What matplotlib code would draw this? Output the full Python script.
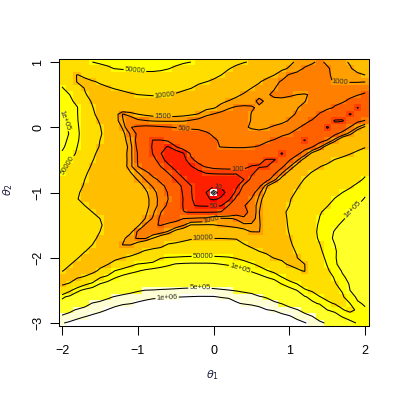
import numpy as np
import matplotlib
matplotlib.use("Agg")
import matplotlib.pyplot as plt
from matplotlib.colors import ListedColormap, BoundaryNorm

plt.rcParams['font.family'] = ['Liberation Sans', 'DejaVu Sans']
plt.rcParams['mathtext.fontset'] = 'dejavusans'

theta1 = [round(-2 + 0.1 * i, 1) for i in range(41)]
theta2 = [round(1 - 0.1 * j, 1) for j in range(41)]

# log10 of the surface, top row first (theta2 = 1 ... -3)
log10_z = [
[4.4,4.45,4.55,4.63,4.7,4.74,4.76,4.78,4.79,4.8,4.8,4.8,4.8,4.8,4.78,4.76,4.73,4.7,4.6,4.5,4.4,4.3,4.2,4.1,4.03,3.95,3.8,3.65,3.5,3.35,3.22,3.15,3.08,3.02,2.97,3.03,3.08,3.14,3.2,3.3,3.4],
[4.3,4.3,4.35,4.45,4.55,4.6,4.66,4.71,4.73,4.74,4.75,4.75,4.75,4.74,4.71,4.66,4.6,4.5,4.4,4.3,4.2,4.1,4.02,3.9,3.75,3.6,3.45,3.35,3.28,3.22,3.16,3.08,2.98,2.95,2.95,2.98,3.05,3.1,3.16,3.25,3.3],
[4.3,4.2,3.98,4.08,4.2,4.3,4.38,4.45,4.52,4.58,4.62,4.64,4.64,4.62,4.58,4.5,4.42,4.34,4.25,4.15,4.08,4.0,3.85,3.7,3.55,3.42,3.32,3.25,3.18,3.08,2.98,2.93,2.9,2.9,2.92,2.98,3.03,3.07,3.1,3.14,3.18],
[4.62,4.4,3.97,3.9,3.97,4.04,4.1,4.18,4.25,4.32,4.37,4.4,4.42,4.41,4.37,4.3,4.22,4.14,4.07,4.01,3.95,3.85,3.72,3.55,3.42,3.3,3.2,3.12,3.05,2.98,2.9,2.85,2.85,2.85,2.87,2.98,3.01,3.01,3.02,3.02,3.01],
[4.72,4.58,4.2,3.98,3.88,3.92,3.97,4.02,4.07,4.12,4.16,4.2,4.22,4.21,4.17,4.12,4.07,4.01,3.9,3.8,3.72,3.62,3.5,3.38,3.25,3.18,3.12,3.06,3.01,2.93,2.88,2.84,2.84,2.84,2.85,2.88,2.88,2.87,2.86,2.85,2.84],
[4.8,4.7,4.35,4.03,3.9,3.85,3.85,3.88,3.91,3.96,4.0,4.02,4.04,4.03,4.01,3.97,3.9,3.8,3.7,3.6,3.5,3.4,3.3,3.22,3.16,3.1,3.05,3.02,2.97,2.95,2.98,3.0,3.02,2.97,2.88,2.82,2.8,2.78,2.76,2.72,2.65],
[4.88,4.78,4.6,4.15,3.96,3.82,3.75,3.73,3.74,3.76,3.78,3.8,3.8,3.8,3.78,3.72,3.65,3.55,3.45,3.35,3.28,3.22,3.17,3.12,3.09,3.06,2.96,3.03,3.04,3.05,3.05,3.04,3.01,2.92,2.85,2.78,2.75,2.73,2.65,2.5,2.4],
[4.92,4.85,4.72,4.3,4.02,3.82,3.65,3.42,3.5,3.55,3.6,3.62,3.63,3.63,3.6,3.55,3.48,3.38,3.3,3.24,3.2,3.12,3.02,2.97,2.96,2.98,3.03,3.06,3.07,3.05,3.04,3.01,2.95,2.87,2.8,2.75,2.68,2.6,2.42,1.97,2.32],
[5.0,4.9,4.72,4.4,4.08,3.85,3.6,3.3,2.99,3.05,3.18,3.22,3.25,3.27,3.27,3.26,3.24,3.21,3.17,3.05,2.99,2.93,2.9,2.88,2.88,3.01,3.04,3.08,3.1,3.09,3.05,2.98,2.9,2.82,2.68,2.55,2.42,2.3,1.95,2.3,2.45],
[5.03,4.96,4.73,4.45,4.18,3.95,3.65,3.3,3.01,2.9,2.96,2.99,3.02,3.03,3.03,3.03,3.02,2.98,2.93,2.86,2.83,2.82,2.82,2.85,2.93,3.01,3.05,3.08,3.09,3.07,2.98,2.9,2.76,2.68,2.55,2.3,1.95,1.95,2.38,2.62,2.72],
[5.1,4.96,4.75,4.5,4.25,4.03,3.72,3.38,3.15,2.71,2.65,2.62,2.63,2.66,2.69,2.71,2.73,2.74,2.74,2.77,2.8,2.8,2.82,2.85,2.96,3.03,3.05,3.02,2.97,2.9,2.82,2.73,2.65,2.52,2.35,1.95,2.2,2.4,2.72,3.0,3.25],
[5.15,4.98,4.77,4.52,4.3,4.05,3.85,3.55,3.25,2.98,2.62,2.52,2.48,2.5,2.52,2.55,2.58,2.6,2.63,2.67,2.73,2.78,2.82,2.85,2.87,2.9,2.93,2.92,2.87,2.78,2.7,2.62,2.45,2.35,2.1,2.22,2.62,2.85,3.1,3.5,3.65],
[5.08,4.95,4.75,4.5,4.25,4.0,3.8,3.55,3.3,3.02,2.55,2.3,1.98,1.98,2.05,2.2,2.35,2.45,2.52,2.6,2.67,2.73,2.77,2.8,2.82,2.82,2.8,2.74,2.68,2.55,2.4,2.25,1.97,2.3,2.55,2.73,3.1,3.5,3.7,3.8,3.9],
[5.05,4.9,4.7,4.45,4.2,3.97,3.78,3.55,3.33,3.1,2.6,2.25,1.95,1.78,1.68,1.98,2.2,2.35,2.48,2.58,2.66,2.71,2.73,2.74,2.74,2.71,2.68,2.6,2.5,2.3,2.05,2.1,2.55,2.68,2.97,3.35,3.55,3.65,3.75,3.85,3.97],
[4.97,4.87,4.65,4.38,4.1,3.88,3.68,3.5,3.3,3.08,2.68,2.3,1.98,1.72,1.5,1.45,1.68,2.05,2.2,2.3,2.38,2.42,2.42,2.43,2.42,2.4,2.35,2.3,2.2,1.97,2.25,2.6,2.85,3.25,3.45,3.6,3.72,3.85,3.97,4.1,4.22],
[4.87,4.74,4.55,4.3,4.03,3.8,3.65,3.48,3.3,3.09,2.68,2.3,2.1,1.85,1.55,1.25,1.55,1.95,2.08,2.2,2.25,2.28,2.27,2.25,2.22,2.2,2.1,1.97,1.98,2.12,2.67,2.95,3.3,3.5,3.65,3.85,4.02,4.12,4.22,4.32,4.42],
[4.82,4.65,4.45,4.22,3.93,3.75,3.6,3.45,3.3,3.08,2.7,2.45,2.25,2.0,1.8,1.55,1.35,1.67,1.93,2.03,2.12,2.15,2.17,2.17,2.14,1.98,1.97,1.98,2.25,2.62,2.97,3.3,3.55,3.75,3.98,4.1,4.22,4.32,4.42,4.52,4.6],
[4.74,4.55,4.35,4.08,3.85,3.7,3.55,3.4,3.27,3.2,3.02,2.82,2.55,2.3,2.0,1.78,1.5,1.3,1.55,1.72,1.75,1.76,1.76,1.75,1.78,1.93,2.15,2.4,2.62,2.98,3.3,3.55,3.8,4.05,4.15,4.25,4.33,4.42,4.5,4.58,4.65],
[4.63,4.45,4.25,4.0,3.8,3.62,3.5,3.38,3.3,3.25,3.17,2.99,2.8,2.62,2.4,1.95,1.75,1.45,1.3,1.35,1.38,1.4,1.42,1.45,1.7,2.1,2.3,2.55,2.93,3.3,3.55,3.75,4.03,4.13,4.22,4.3,4.38,4.47,4.55,4.63,4.74],
[4.55,4.35,4.15,3.95,3.75,3.6,3.48,3.38,3.32,3.28,3.25,3.15,2.97,2.78,2.62,2.35,1.85,1.72,1.5,1.1,1.05,1.1,1.25,1.6,2.08,2.3,2.6,3.15,3.45,3.65,3.82,3.97,4.08,4.17,4.25,4.32,4.4,4.54,4.66,4.76,4.85],
[4.45,4.28,4.05,3.9,3.72,3.6,3.5,3.42,3.36,3.32,3.28,3.21,3.1,2.87,2.68,2.45,1.93,1.73,1.45,1.0,0.3,0.8,1.2,1.85,2.2,2.5,2.95,3.25,3.55,3.75,3.92,4.03,4.1,4.2,4.32,4.45,4.58,4.7,4.78,4.88,4.96],
[4.38,4.22,4.02,3.85,3.72,3.62,3.55,3.48,3.42,3.38,3.34,3.25,3.1,2.93,2.7,2.45,1.98,1.75,1.5,1.1,0.9,1.1,1.62,2.1,2.4,2.72,3.05,3.4,3.62,3.82,3.98,4.08,4.18,4.28,4.4,4.55,4.72,4.8,4.86,4.93,5.02],
[4.32,4.15,4.08,4.0,3.82,3.7,3.62,3.55,3.48,3.42,3.37,3.25,3.1,2.92,2.62,2.4,1.97,1.72,1.68,1.67,1.68,1.68,2.02,2.35,2.68,2.82,3.12,3.45,3.68,3.88,4.0,4.1,4.22,4.35,4.55,4.69,4.78,4.85,4.92,5.0,5.08],
[4.27,4.18,4.12,4.07,4.0,3.85,3.72,3.63,3.55,3.48,3.42,3.22,3.05,2.72,2.45,2.25,2.01,1.97,1.97,1.97,1.98,2.02,2.2,2.45,2.65,2.75,3.17,3.5,3.72,3.94,4.05,4.17,4.3,4.47,4.68,4.76,4.83,4.9,5.0,5.05,5.12],
[4.22,4.18,4.15,4.12,4.09,4.0,3.8,3.68,3.58,3.5,3.42,3.17,2.97,2.63,2.58,2.62,2.7,2.74,2.78,2.8,3.02,3.05,3.02,2.98,2.72,2.85,3.15,3.5,3.72,3.9,4.05,4.18,4.33,4.53,4.71,4.8,4.88,4.97,5.07,5.14,5.2],
[4.17,4.16,4.15,4.14,4.12,4.06,3.85,3.7,3.58,3.45,3.23,2.97,2.72,2.69,2.75,2.8,2.98,3.2,3.2,3.21,3.19,3.15,3.12,3.1,3.08,3.05,3.13,3.5,3.7,3.88,4.04,4.18,4.34,4.55,4.76,4.85,4.95,5.05,5.12,5.18,5.24],
[4.12,4.13,4.13,4.13,4.1,4.0,3.82,3.65,3.5,3.25,2.97,2.85,2.82,2.88,3.02,3.3,3.4,3.48,3.52,3.55,3.52,3.48,3.4,3.32,3.25,3.17,3.16,3.48,3.68,3.85,4.02,4.18,4.35,4.55,4.8,4.9,5.02,5.1,5.16,5.22,5.28],
[4.08,4.1,4.1,4.1,4.06,3.95,3.78,3.6,3.25,3.05,2.98,2.97,3.18,3.38,3.55,3.7,3.85,3.95,3.99,3.98,3.99,3.99,3.98,3.97,3.85,3.72,3.62,3.6,3.68,3.84,3.98,4.2,4.38,4.58,4.75,4.9,5.05,5.12,5.18,5.24,5.3],
[4.05,4.07,4.07,4.06,4.0,3.85,3.7,3.52,3.17,3.16,3.3,3.5,3.62,3.75,4.06,4.12,4.17,4.2,4.22,4.23,4.23,4.22,4.2,4.16,4.02,3.92,3.78,3.75,3.78,3.85,3.93,4.12,4.35,4.55,4.69,4.88,5.0,5.1,5.16,5.23,5.3],
[4.03,4.05,4.06,4.01,3.93,3.8,3.68,3.58,3.52,3.62,3.85,4.07,4.23,4.32,4.38,4.42,4.45,4.47,4.48,4.48,4.48,4.46,4.43,4.37,4.3,4.1,4.0,3.93,3.9,3.92,3.94,4.02,4.3,4.53,4.63,4.85,4.98,5.08,5.15,5.22,5.28],
[4.02,4.03,4.02,3.9,3.85,3.82,3.82,3.88,3.99,4.13,4.27,4.38,4.48,4.68,4.72,4.73,4.75,4.76,4.76,4.76,4.76,4.75,4.73,4.67,4.58,4.43,4.25,4.1,3.98,3.96,3.97,3.99,4.28,4.5,4.62,4.75,4.98,5.1,5.17,5.23,5.27],
[4.05,4.02,3.9,3.8,3.78,3.83,3.98,4.2,4.4,4.6,4.72,4.76,4.8,4.88,4.95,5.02,5.04,5.05,5.05,5.05,5.04,5.0,4.97,4.94,4.85,4.75,4.62,4.45,4.25,4.05,3.97,3.96,3.99,4.3,4.5,4.72,4.96,5.1,5.16,5.2,5.24],
[4.02,3.9,3.8,3.75,3.82,4.1,4.35,4.71,4.85,4.92,4.98,5.05,5.1,5.13,5.17,5.2,5.22,5.23,5.23,5.23,5.22,5.18,5.15,5.1,5.01,4.97,4.87,4.73,4.6,4.35,4.15,4.02,3.99,4.22,4.4,4.65,4.85,5.03,5.1,5.15,5.2],
[3.78,3.82,3.95,4.05,4.3,4.67,4.82,4.98,5.07,5.13,5.17,5.21,5.25,5.29,5.32,5.35,5.37,5.38,5.39,5.39,5.38,5.36,5.33,5.29,5.23,5.17,5.1,5.0,4.93,4.71,4.55,4.37,4.1,4.2,4.38,4.52,4.74,4.96,5.07,5.12,5.17],
[3.95,4.03,4.35,4.62,4.78,5.0,5.1,5.18,5.24,5.29,5.33,5.37,5.41,5.45,5.48,5.52,5.55,5.56,5.57,5.58,5.57,5.55,5.52,5.47,5.41,5.36,5.3,5.22,5.13,4.99,4.82,4.7,4.53,4.38,4.32,4.45,4.67,4.85,5.03,5.1,5.15],
[4.2,4.62,4.93,5.08,5.17,5.25,5.32,5.38,5.5,5.58,5.66,5.71,5.72,5.74,5.75,5.76,5.77,5.78,5.78,5.77,5.75,5.73,5.71,5.68,5.64,5.6,5.54,5.45,5.35,5.27,5.15,5.0,4.75,4.65,4.55,4.52,4.6,4.73,5.0,5.05,5.1],
[4.95,5.07,5.2,5.3,5.4,5.48,5.63,5.73,5.8,5.85,5.9,5.93,5.96,5.97,5.98,5.99,6.0,6.01,6.02,6.02,6.02,5.98,5.95,5.9,5.85,5.81,5.72,5.68,5.58,5.48,5.35,5.22,5.03,4.92,4.71,4.63,4.6,4.65,4.93,5.03,5.06],
[5.1,5.25,5.4,5.55,5.72,5.8,5.86,5.92,5.97,5.99,6.03,6.07,6.1,6.13,6.16,6.18,6.2,6.21,6.22,6.22,6.22,6.2,6.17,6.03,5.97,5.93,5.88,5.8,5.75,5.69,5.58,5.45,5.15,5.05,4.97,4.75,4.68,4.6,4.7,4.98,5.02],
[5.5,5.62,5.74,5.82,5.88,5.93,6.01,6.08,6.13,6.2,6.25,6.3,6.33,6.36,6.39,6.42,6.44,6.45,6.46,6.46,6.46,6.44,6.41,6.37,6.3,6.22,6.12,6.01,5.97,5.87,5.8,5.72,5.6,5.45,5.22,5.0,4.9,4.72,4.62,4.75,4.98],
[5.75,5.82,5.92,5.99,6.05,6.12,6.2,6.28,6.35,6.4,6.46,6.5,6.55,6.6,6.63,6.66,6.68,6.7,6.7,6.7,6.7,6.68,6.65,6.6,6.55,6.48,6.4,6.3,6.2,6.1,6.03,5.92,5.8,5.71,5.5,5.3,5.17,4.97,4.85,4.71,4.82],
[5.98,6.05,6.12,6.2,6.27,6.35,6.42,6.5,6.55,6.62,6.68,6.72,6.77,6.8,6.84,6.87,6.9,6.91,6.92,6.92,6.92,6.9,6.87,6.83,6.78,6.72,6.64,6.55,6.45,6.33,6.2,6.1,6.02,5.93,5.78,5.65,5.45,5.3,5.1,4.97,4.88],
]

band_breaks = [0.7, 1, 1.7, 2, 2.7, 3, 3.18, 4, 4.7, 5, 5.7, 6]
band_colors = ['#FF0000', '#FF2000', '#FF4000', '#FF6000', '#FF8000', '#FF9F00',
               '#FFBF00', '#FFDF00', '#FFFF00', '#FFFF2A', '#FFFFD5']
inner_levels = [0.4, 0.55]
contour_levels = band_breaks[1:]
label_text = {1: '10', 1.7: '50', 2: '100', 2.7: '500', 3: '1000', 3.18: '1500',
              4: '10000', 4.7: '50000', 5: '1e+05', 5.7: '5e+05', 6: '1e+06'}
label_spots = [(0.05, -0.92), (0.0, -1.21), (0.32, -0.67), (-0.39, -0.01), (-0.02, -1.44),
               (1.67, 0.65), (-0.67, 0.14), (-0.64, 0.45), (-0.14, -1.73),
               (-1.04, 0.85), (-1.89, -0.61), (-0.14, -1.97), (-1.96, 0.11),
               (0.35, -2.16), (1.84, -1.27), (-0.18, -2.45), (-0.61, -2.68)]

fig = plt.figure(figsize=(4, 4), dpi=100)
ax = fig.add_axes([59/400, 1-326/400, 310/400, 267/400])
Z = np.array(log10_z)
cmap = ListedColormap(band_colors)
cmap.set_under('white')
cmap.set_over('white')
ax.pcolormesh(theta1, theta2, Z, cmap=cmap, norm=BoundaryNorm(band_breaks, len(band_colors)),
              shading='nearest', antialiased=False, linewidth=0)
ax.contour(theta1, theta2, Z, levels=inner_levels, colors='black', linewidths=0.6, antialiased=True)
cs = ax.contour(theta1, theta2, Z, levels=contour_levels, colors='black', linewidths=0.75, antialiased=True)
ax.clabel(cs, levels=contour_levels, fmt=label_text, fontsize=5.5, colors='#303030',
          manual=label_spots, inline=True, inline_spacing=1)

ax.set_xlim(-2.04, 2.05)
ax.set_ylim(-3.046, 1.046)
ax.set_xticks([-2, -1, 0, 1, 2])
ax.set_yticks([-3, -2, -1, 0, 1])
ax.tick_params(length=6.5, width=0.75, labelsize=9)
ax.tick_params(axis='x', pad=7.5)
ax.tick_params(axis='y', pad=4)
for t in ax.get_yticklabels():
    t.set_rotation(90)
    t.set_va('center')
for s in ax.spines.values():
    s.set_linewidth(0.75)
fig.text(213/400, 1-375/400, r'$\theta_1$', ha='center', va='center', fontsize=8, color='#202040')
fig.text(8.5/400, 1-190/400, r'$\theta_2$', ha='center', va='center', rotation=90, fontsize=8, color='#202040')
fig.savefig('out.png', dpi=100)
